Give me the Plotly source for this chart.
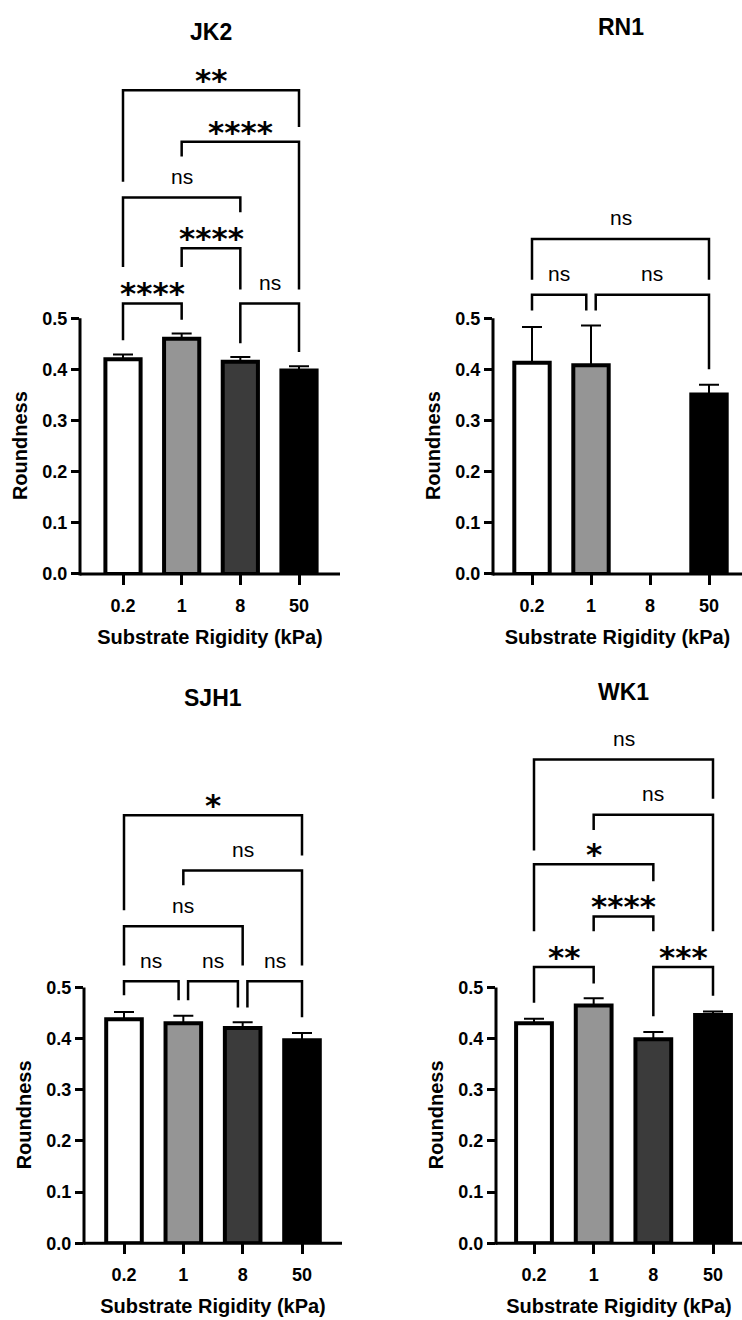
import plotly.graph_objects as go

# ---------------------------------------------------------------- data
CATEGORIES = ["0.2", "1", "8", "50"]          # substrate rigidity (kPa)
BAR_COLORS = ["#ffffff", "#959595", "#3b3b3b", "#000000"]

PANEL_NAMES = ["JK2", "RN1", "SJH1", "WK1"]

JK2_MEAN = [0.420, 0.460, 0.415, 0.398]
JK2_SEM = [0.009, 0.010, 0.009, 0.008]

RN1_MEAN = [0.413, 0.408, None, 0.351]
RN1_SEM = [0.070, 0.078, None, 0.019]

SJH1_MEAN = [0.438, 0.430, 0.421, 0.397]
SJH1_SEM = [0.014, 0.015, 0.011, 0.014]

WK1_MEAN = [0.430, 0.465, 0.399, 0.446]
WK1_SEM = [0.009, 0.014, 0.014, 0.007]

# significance comparisons: (group a, group b, label)
JK2_TESTS = [(0, 1, "****"), (2, 3, "ns"), (1, 2, "****"),
             (0, 2, "ns"), (1, 3, "****"), (0, 3, "**")]
RN1_TESTS = [(0, 1, "ns"), (1, 3, "ns"), (0, 3, "ns")]
SJH1_TESTS = [(0, 1, "ns"), (1, 2, "ns"), (2, 3, "ns"),
              (0, 2, "ns"), (1, 3, "ns"), (0, 3, "*")]
WK1_TESTS = [(0, 1, "**"), (2, 3, "***"), (1, 2, "****"),
             (0, 2, "*"), (1, 3, "ns"), (0, 3, "ns")]

MEANS = [JK2_MEAN, RN1_MEAN, SJH1_MEAN, WK1_MEAN]
SEMS = [JK2_SEM, RN1_SEM, SJH1_SEM, WK1_SEM]
TESTS = [JK2_TESTS, RN1_TESTS, SJH1_TESTS, WK1_TESTS]

# ------------------------------------------------------ bracket layout
# per comparison: (bar height, left leg end, right leg end) in axis units
JK2_BRACKET_Y = [(0.529, 0.457, 0.497), (0.529, 0.451, 0.434),
                 (0.637, 0.600, 0.556), (0.736, 0.600, 0.707),
                 (0.845, 0.816, 0.556), (0.946, 0.767, 0.874)]
RN1_BRACKET_Y = [(0.546, 0.515, 0.515), (0.546, 0.515, 0.400),
                 (0.655, 0.575, 0.575)]
SJH1_BRACKET_Y = [(0.512, 0.485, 0.475), (0.512, 0.475, 0.461),
                  (0.512, 0.461, 0.442), (0.620, 0.543, 0.543),
                  (0.729, 0.700, 0.543), (0.837, 0.651, 0.758)]
WK1_BRACKET_Y = [(0.540, 0.470, 0.508), (0.540, 0.444, 0.484),
                 (0.639, 0.610, 0.610), (0.741, 0.610, 0.708),
                 (0.838, 0.808, 0.610), (0.946, 0.768, 0.869)]
BRACKET_Y = [JK2_BRACKET_Y, RN1_BRACKET_Y, SJH1_BRACKET_Y, WK1_BRACKET_Y]

# ---------------------------------------------------------- page layout
W, H = 742, 1320
PX_PER_UNIT = 515.3
Y_TOP = 1.1
# axis left/right edge, first/last category centre, y=0 line (pixels)
GEOMETRY = [
    dict(left=80, right=340, first=123, last=299, zero=578.3, title_y=1.060),
    dict(left=493, right=742, first=532, last=709, zero=578.3, title_y=1.070),
    dict(left=84, right=342, first=124, last=302, zero=1252.7, title_y=1.067),
    dict(left=496, right=742, first=534, last=713, zero=1252.7, title_y=1.078),
]

FONT = "Liberation Sans, Arial, Helvetica, sans-serif"
STAR_FONT = "DejaVu Sans, Liberation Sans, sans-serif"
LINE_W = 3
BRACKET_W = 2.5
INSET = 0.08

fig = go.Figure()
shapes, annotations = [], []
layout_axes = {}

for k, name in enumerate(PANEL_NAMES):
    g = GEOMETRY[k]
    sfx = "" if k == 0 else str(k + 1)
    xa, ya = "x" + sfx, "y" + sfx
    sp = (g["last"] - g["first"]) / 3.0
    xrange = [(g["left"] - g["first"]) / sp, (g["right"] - g["first"]) / sp]
    xdom = [g["left"] / W, min(g["right"] / W, 1.0)]
    ydom = [1 - g["zero"] / H, 1 - (g["zero"] - Y_TOP * PX_PER_UNIT) / H]
    dom_h = Y_TOP * PX_PER_UNIT

    fig.add_trace(go.Bar(
        x=list(range(len(CATEGORIES))), y=MEANS[k],
        width=0.6,
        marker=dict(color=BAR_COLORS, line=dict(color="black", width=4)),
        error_y=dict(type="data", symmetric=False,
                     array=SEMS[k], arrayminus=[0] * len(CATEGORIES),
                     color="black", thickness=2, width=10),
        xaxis=xa, yaxis=ya, showlegend=False, hoverinfo="skip",
    ))

    layout_axes["xaxis" + sfx] = dict(
        domain=xdom, range=xrange, anchor=ya,
        tickmode="array", tickvals=list(range(len(CATEGORIES))),
        ticktext=CATEGORIES, ticks="outside", ticklen=10, tickwidth=LINE_W,
        tickcolor="black", showline=False, showgrid=False, zeroline=False,
        ticklabelstandoff=5,
        tickfont=dict(family=FONT, size=18, color="black", weight="bold"),
        title=dict(text="Substrate Rigidity (kPa)", standoff=15,
                   font=dict(family=FONT, size=20, color="black", weight="bold")),
    )
    layout_axes["yaxis" + sfx] = dict(
        domain=ydom, range=[0, Y_TOP], anchor=xa,
        tickmode="array", tickvals=[0, 0.1, 0.2, 0.3, 0.4, 0.5],
        tickformat=".1f", ticks="outside", ticklen=8, tickwidth=LINE_W,
        tickcolor="black", showline=False, showgrid=False, zeroline=False,
        tickfont=dict(family=FONT, size=18, color="black", weight="bold"),
    )

    # axis lines: x along the full width, y only up to 0.5
    shapes.append(dict(type="line", xref=xa + " domain", yref=ya + " domain",
                       x0=0, x1=1, y0=0, y1=0,
                       line=dict(color="black", width=LINE_W)))
    shapes.append(dict(type="line", xref=xa + " domain", yref=ya + " domain",
                       x0=0, x1=0, y0=-1.5 / dom_h, y1=0.5 / Y_TOP,
                       line=dict(color="black", width=LINE_W)))

    # y-axis title, centred on the drawn 0-0.5 axis
    annotations.append(dict(text="Roundness", xref=xa + " domain", yref=ya,
                            x=0, y=0.25, xshift=-60, textangle=-90,
                            showarrow=False, xanchor="center", yanchor="middle",
                            font=dict(family=FONT, size=20, color="black",
                                      weight="bold")))

    # panel title
    annotations.append(dict(text=name, xref=xa, yref=ya, x=1.5, y=g["title_y"],
                            showarrow=False, yanchor="middle",
                            font=dict(family=FONT, size=23, color="black",
                                      weight="bold")))

    # significance brackets
    tests, ys = TESTS[k], BRACKET_Y[k]
    ends = [[float(a), float(b)] for a, b, _ in tests]
    for i, (a, b, _) in enumerate(tests):
        for j, (c, d, _) in enumerate(tests):
            if i != j and ys[i][0] == ys[j][0] and b == c:
                ends[i][1] -= INSET
                ends[j][0] += INSET
    for i, (a, b, label) in enumerate(tests):
        yb, yl, yr = ys[i]
        xl, xr = ends[i]
        shapes.append(dict(
            type="path", xref=xa, yref=ya,
            path=f"M {xl},{yl} L {xl},{yb} L {xr},{yb} L {xr},{yr}",
            line=dict(color="black", width=BRACKET_W)))
        if label == "ns":
            font = dict(family=FONT, size=21, color="black")
            shift = 21
        else:
            font = dict(family=STAR_FONT, size=31, color="black", weight="bold")
            shift = 10
        annotations.append(dict(text=label, xref=xa, yref=ya,
                                x=(xl + xr) / 2, y=yb, yshift=shift,
                                showarrow=False, yanchor="middle", font=font))

fig.update_layout(
    width=W, height=H, margin=dict(l=0, r=0, t=0, b=0),
    paper_bgcolor="white", plot_bgcolor="white",
    shapes=shapes, annotations=annotations, bargap=0.4,
    **layout_axes,
)

fig.write_html("out.html")
